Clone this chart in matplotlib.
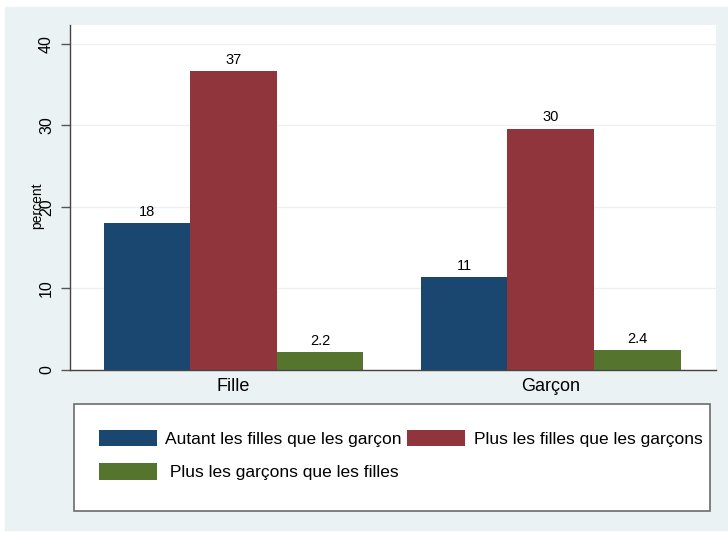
import numpy as np
import matplotlib.pyplot as plt
from matplotlib.patches import Rectangle

plt.rcParams["font.family"] = ["Liberation Sans", "DejaVu Sans"]

groups = ["Fille", "Garçon"]
series = ["Autant les filles que les garçon",
          "Plus les filles que les garçons",
          " Plus les garçons que les filles"]
values = {
    series[0]: [18.0, 11.4],
    series[1]: [36.6, 29.6],
    series[2]: [2.2, 2.4],
}
colors = ["#1a476f", "#90353b", "#55752f"]

W, H = 728, 533
fig = plt.figure(figsize=(W / 100, H / 100), dpi=100, facecolor="white")
# stata-like light background panel
fig.patches.append(Rectangle((5 / W, 3 / H), 723 / W, 523 / H,
                             transform=fig.transFigure, color="#eaf2f3", zorder=-10))

ax = fig.add_axes([70 / W, 1 - 370 / H, 646 / W, 345 / H])
ax.set_facecolor("white")

width = 1.0
gap = 3.665
centers = np.arange(len(groups)) * gap
handles = []
for i, s in enumerate(series):
    xs = centers + (i - 1) * width
    b = ax.bar(xs, values[s], width=width, color=colors[i], label=s, zorder=2)
    handles.append(b)
    for x, v in zip(xs, values[s]):
        ax.text(x, v + 0.55, f"{v:.2g}", ha="center", va="bottom", fontsize=10.5)

ax.set_xlim(centers[0] - 1.89, centers[-1] + 1.91)
ax.set_ylim(0, 42.3)
ax.set_yticks([0, 10, 20, 30, 40])
ax.set_yticklabels(["0", "10", "20", "30", "40"], rotation=90, va="center", fontsize=11.5)
ax.set_xticks(centers)
ax.set_xticklabels(groups, fontsize=13)
ax.tick_params(axis="x", length=0, pad=6)
ax.tick_params(axis="y", length=6.5, width=1, color="#555555", pad=5)
ax.yaxis.grid(True, color="#eef0f0", linewidth=1, zorder=0)
ax.set_ylabel("percent", fontsize=10)
ax.yaxis.set_label_coords(-0.040, 0.475)
for side in ["top", "right"]:
    ax.spines[side].set_visible(False)
for side in ["left", "bottom"]:
    ax.spines[side].set_color("#444444")
    ax.spines[side].set_linewidth(1)

# legend frame
fig.patches.append(Rectangle((74 / W, 1 - 511 / H), 636 / W, 107 / H,
                             transform=fig.transFigure, facecolor="white",
                             edgecolor="#6b6b6b", linewidth=1.2, zorder=1))
order = [handles[0], handles[2], handles[1]]
leg = fig.legend(order, [h.get_label() for h in order], ncol=2,
                 loc="upper left", bbox_to_anchor=(99 / W, 1 - 429.5 / H),
                 fontsize=12.5, frameon=False, borderpad=0,
                 handlelength=3.33, handleheight=1.09, handletextpad=0.5,
                 columnspacing=0.3, labelspacing=0.95, borderaxespad=0)
leg.set_zorder(2)

fig.savefig("out.png", dpi=100, facecolor="white")
